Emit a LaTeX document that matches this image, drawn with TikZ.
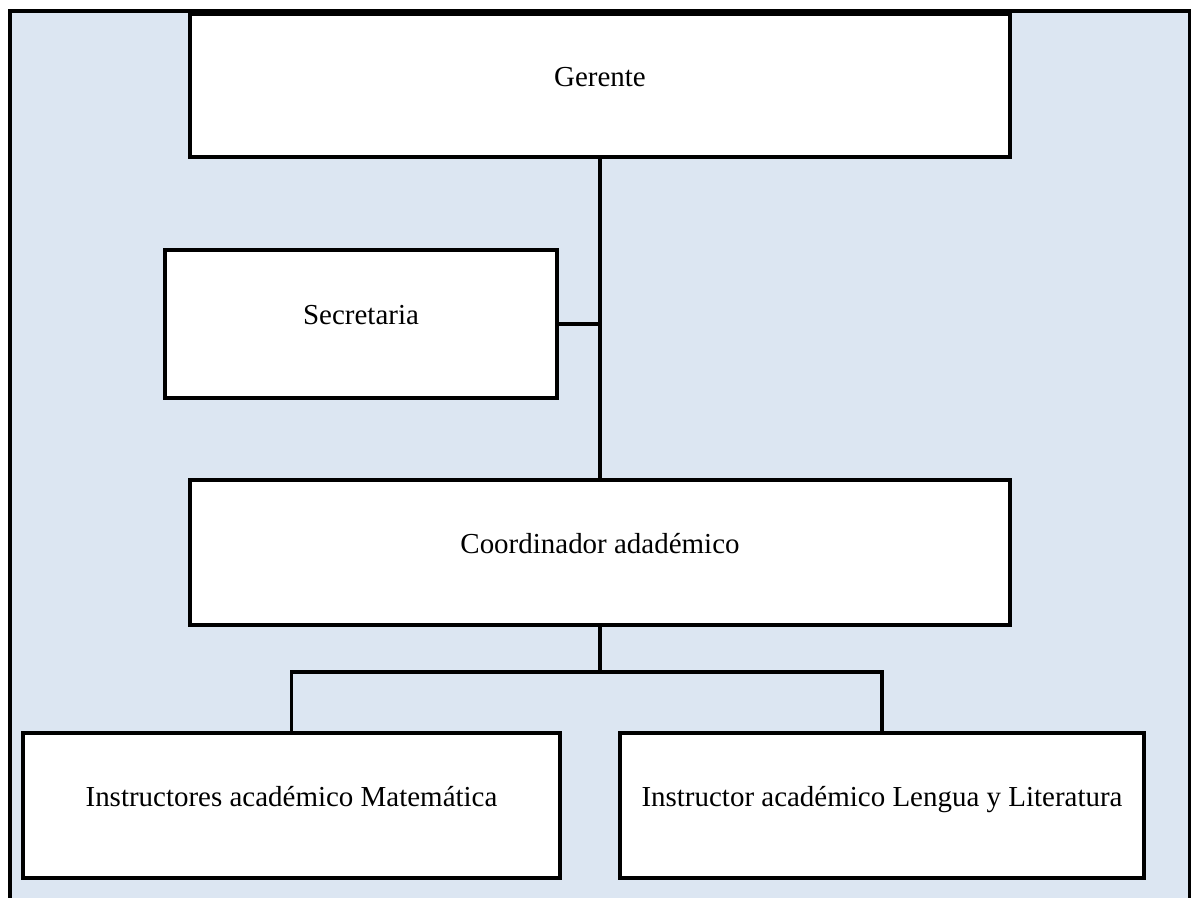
\documentclass[tikz,border=0pt]{standalone}
\usepackage{fontspec}
\setmainfont{Liberation Serif}
\definecolor{fondo}{HTML}{DCE6F2}
\begin{document}
\begin{tikzpicture}[x=0.025cm,y=-0.025cm,
  every node/.style={font=\fontsize{20.6}{24}\selectfont},
  cargo/.style={draw,line width=2.5pt,fill=white,inner sep=0pt,text height=0.55em,text depth=0.45em},
  enlace/.style={line width=2.5pt}]
\useasboundingbox (0,0) rectangle (1191,898);
% fondo y marco
\fill[fondo] (10,11) rectangle (1191,898);
\draw[line width=3.2pt] (10,898) -- (10,11) -- (1191,11);
\draw[line width=2.2pt] (1189.5,11) -- (1189.5,898);
% cargos
\node[cargo,minimum width=820*0.025cm,minimum height=143*0.025cm] (gerente) at (600,85.5) {Gerente};
\node[cargo,minimum width=392*0.025cm,minimum height=148*0.025cm] (secretaria) at (361,324) {Secretaria};
\node[cargo,minimum width=820*0.025cm,minimum height=145*0.025cm] (coordinador) at (600,552.5) {Coordinador adadémico};
\node[cargo,minimum width=537*0.025cm,minimum height=145*0.025cm] (matematica) at (291.5,805.5) {Instructores académico Matemática};
\node[cargo,minimum width=524*0.025cm,minimum height=145*0.025cm] (lengua) at (882,805.5) {Instructor académico Lengua y Literatura};
% lineas
\coordinate (division) at (600,672);
\draw[enlace] (gerente.south) -- (coordinador.north);
\draw[enlace] (secretaria.east) -- (secretaria.east -| gerente.south);
\draw[enlace] (coordinador.south) -- (division);
\draw[enlace] (matematica.north) |- (division) -| (lengua.north);
\end{tikzpicture}
\end{document}
